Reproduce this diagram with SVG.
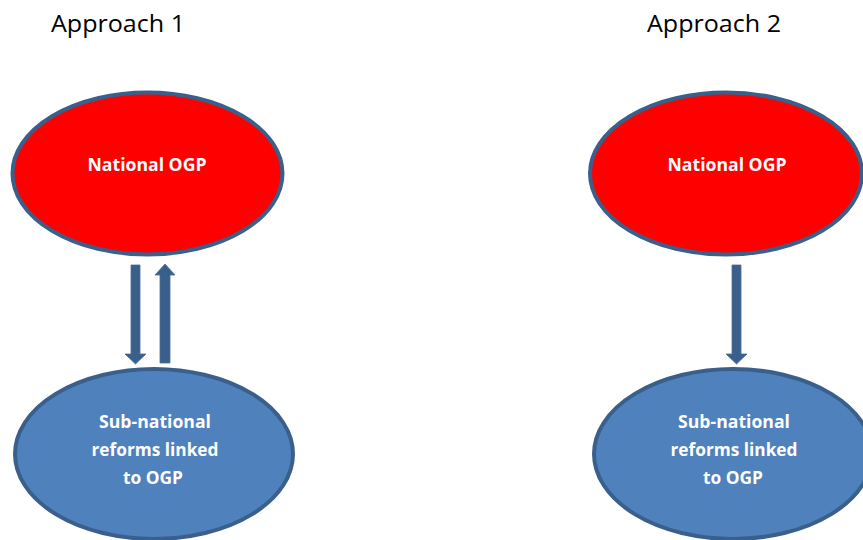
<svg xmlns="http://www.w3.org/2000/svg" width="863" height="540" viewBox="0 0 863 540">
<style>
.title{font-family:"Open Sans","Liberation Sans",sans-serif;font-size:24px;fill:#000}
.lbl{font-family:"Open Sans","Liberation Sans",sans-serif;font-size:17.5px;font-weight:bold;fill:#fff;text-anchor:middle}
.red{fill:#ff0000;stroke:#3a5f8b;stroke-width:4}
.blue{fill:#4f81bd;stroke:#3a5f8b;stroke-width:4}
.arr{fill:#3a5f8b;stroke:#4a6f9b;stroke-width:0.8}
</style>
<rect width="863" height="540" fill="#fff"/>
<text class="title" x="51" y="32" textLength="134" lengthAdjust="spacingAndGlyphs">Approach 1</text>
<text class="title" x="647" y="32" textLength="134" lengthAdjust="spacingAndGlyphs">Approach 2</text>
<g id="national1">
<ellipse class="red" cx="147.5" cy="173.5" rx="135" ry="81"/>
<text class="lbl" x="147" y="171" textLength="119" lengthAdjust="spacingAndGlyphs">National OGP</text>
</g>
<g id="sub1">
<ellipse class="blue" cx="154" cy="454" rx="139" ry="85"/>
<text class="lbl" x="155" y="428" textLength="112" lengthAdjust="spacingAndGlyphs">Sub-national</text>
<text class="lbl" x="155" y="456" textLength="127" lengthAdjust="spacingAndGlyphs">reforms linked</text>
<text class="lbl" x="153" y="484" textLength="60" lengthAdjust="spacingAndGlyphs">to OGP</text>
</g>
<g id="national2">
<ellipse class="red" cx="726" cy="173.5" rx="136" ry="81"/>
<text class="lbl" x="727" y="171" textLength="119" lengthAdjust="spacingAndGlyphs">National OGP</text>
</g>
<g id="sub2">
<ellipse class="blue" cx="733" cy="454" rx="139" ry="85"/>
<text class="lbl" x="734" y="428" textLength="112" lengthAdjust="spacingAndGlyphs">Sub-national</text>
<text class="lbl" x="734" y="456" textLength="127" lengthAdjust="spacingAndGlyphs">reforms linked</text>
<text class="lbl" x="733" y="484" textLength="60" lengthAdjust="spacingAndGlyphs">to OGP</text>
</g>
<g id="connectors">
<polygon class="arr" points="131,265 140,265 140,354 146,354 135.5,364 125,354 131,354"/>
<polygon class="arr" points="165,264 175,275 170,275 170,363 160,363 160,275 155,275"/>
<polygon class="arr" points="732,265 741,265 741,354 747,354 736.5,364 726,354 732,354"/>
</g>
</svg>
